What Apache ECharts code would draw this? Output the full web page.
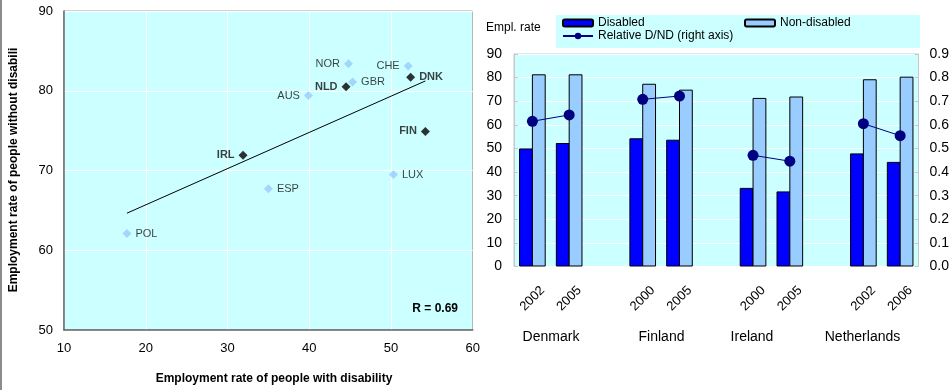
<!DOCTYPE html>
<html>
<head>
<meta charset="utf-8">
<script src="https://cdn.jsdelivr.net/npm/echarts@6/dist/echarts.min.js"></script>
<style>
  html, body { margin: 0; padding: 0; background: #fff; }
  #scatter { position: absolute; left: 0; top: 0; width: 483px; height: 390px; }
  #bars { position: absolute; left: 483px; top: 0; width: 469px; height: 390px; }
</style>
</head>
<body>
<div id="scatter"></div>
<div id="bars"></div>
<script>
// ---- Employment rates with / without disability, by country ----
const countryCodes = ['NOR', 'CHE', 'DNK', 'GBR', 'NLD', 'AUS', 'FIN', 'IRL', 'LUX', 'ESP', 'POL'];
const rateWithDisability = [44.8, 52.1, 52.4, 45.3, 44.5, 39.9, 54.2, 31.9, 50.3, 35.0, 17.7];
const rateWithoutDisability = [83.4, 83.1, 81.7, 81.1, 80.5, 79.4, 74.9, 71.9, 69.5, 67.7, 62.1];
const highlightedCodes = ['DNK', 'NLD', 'FIN', 'IRL'];
const scatterXTicks = [10, 20, 30, 40, 50, 60];
const scatterYTicks = [50, 60, 70, 80, 90];

// ---- Country trends: disabled vs non-disabled ----
const countryNames = ['Denmark', 'Finland', 'Ireland', 'Netherlands'];
const surveyYears = [['2002', '2005'], ['2000', '2005'], ['2000', '2005'], ['2002', '2006']];
const disabledRate = [50.0, 52.3, 54.3, 53.7, 33.3, 31.8, 47.9, 44.3];
const nonDisabledRate = [81.4, 81.4, 77.4, 74.9, 71.4, 72.0, 79.3, 80.4];
const relativeRatio = [0.615, 0.642, 0.708, 0.722, 0.471, 0.446, 0.605, 0.554];
const rateTicks = [0, 10, 20, 30, 40, 50, 60, 70, 80, 90];
const ratioTicks = [0, 0.1, 0.2, 0.3, 0.4, 0.5, 0.6, 0.7, 0.8, 0.9];

const FONT = '"Liberation Sans", Arial, Helvetica, sans-serif';
const PLOT_BG = '#ccffff';

// least-squares fit and correlation
function fit(xs, ys) {
  const n = xs.length;
  const mx = xs.reduce((a, b) => a + b, 0) / n;
  const my = ys.reduce((a, b) => a + b, 0) / n;
  let sxy = 0, sxx = 0, syy = 0;
  for (let i = 0; i < n; i++) {
    sxy += (xs[i] - mx) * (ys[i] - my);
    sxx += (xs[i] - mx) ** 2;
    syy += (ys[i] - my) ** 2;
  }
  const slope = sxy / sxx;
  return { slope, intercept: my - slope * mx, r: sxy / Math.sqrt(sxx * syy) };
}

// ================= left: scatter =================
const reg = fit(rateWithDisability, rateWithoutDisability);
const xLo = Math.min(...rateWithDisability);
const xHi = Math.max(...rateWithDisability);
const labelOnLeft = { NOR: 1, CHE: 1, NLD: 1, AUS: 1, FIN: 1, IRL: 1 };

const scatterPoints = countryCodes.map((code, i) => {
  const hi = highlightedCodes.includes(code);
  return {
    value: [rateWithDisability[i], rateWithoutDisability[i]],
    name: code,
    itemStyle: { color: hi ? '#000000' : '#99ccff' },
    label: {
      position: labelOnLeft[code] ? 'left' : 'right',
      fontWeight: hi ? 'bold' : 'normal'
    }
  };
});

const scatter = echarts.init(document.getElementById('scatter'), null, { renderer: 'canvas' });
scatter.setOption({
  animation: false,
  textStyle: { fontFamily: FONT },
  grid: {
    left: 64, top: 11, width: 416, height: 319,
    show: true, backgroundColor: PLOT_BG, borderColor: '#a0a0a0', borderWidth: 1
  },
  xAxis: {
    type: 'value', min: scatterXTicks[0], max: scatterXTicks[scatterXTicks.length - 1], interval: 10,
    axisLine: { show: true, onZero: false, lineStyle: { color: '#666', width: 1.5 } },
    axisTick: { show: false },
    splitLine: { show: true, lineStyle: { color: '#ffffff', width: 1 } },
    axisLabel: { fontSize: 13, color: '#000', margin: 12, fontFamily: FONT }
  },
  yAxis: {
    type: 'value', min: scatterYTicks[0], max: scatterYTicks[scatterYTicks.length - 1], interval: 10,
    axisLine: { show: true, onZero: false, lineStyle: { color: '#666', width: 1.5 } },
    axisTick: { show: false },
    splitLine: { show: true, lineStyle: { color: '#ffffff', width: 1 } },
    axisLabel: { fontSize: 13, color: '#000', margin: 11, fontFamily: FONT }
  },
  series: [
    {
      type: 'line',
      data: [[xLo, reg.intercept + reg.slope * xLo], [xHi, reg.intercept + reg.slope * xHi]],
      symbol: 'none',
      lineStyle: { color: '#000', width: 1 },
      z: 2, silent: true
    },
    {
      type: 'scatter',
      symbol: 'diamond',
      symbolSize: 9,
      data: scatterPoints,
      z: 3,
      label: {
        show: true, formatter: '{b}', fontSize: 11, color: '#111', distance: 4, fontFamily: FONT
      }
    }
  ],
  graphic: [
    { type: 'line', shape: { x1: 1, y1: 0, x2: 1, y2: 390 }, style: { stroke: '#666', lineWidth: 1.5 } },
    {
      type: 'text', x: 14, y: 170, rotation: Math.PI / 2,
      style: {
        text: 'Employment rate of people without disabili', font: 'bold 12px ' + FONT,
        fill: '#000', align: 'center', verticalAlign: 'middle'
      }
    },
    {
      type: 'text', x: 274, y: 379,
      style: {
        text: 'Employment rate of people with disability', font: 'bold 12px ' + FONT,
        fill: '#000', align: 'center', verticalAlign: 'middle'
      }
    },
    {
      type: 'text', x: 458, y: 309,
      style: {
        text: 'R = ' + reg.r.toFixed(2), font: 'bold 12px ' + FONT,
        fill: '#000', align: 'right', verticalAlign: 'middle'
      }
    }
  ]
});

// ================= right: bars + ratio line =================
// one empty slot between countries keeps the pairs apart
const categories = [];
const disabledSeries = [];
const nonDisabledSeries = [];
const ratioSeries = [];
let k = 0;
surveyYears.forEach((yrs, ci) => {
  yrs.forEach(y => {
    categories.push(y);
    disabledSeries.push(disabledRate[k]);
    nonDisabledSeries.push(nonDisabledRate[k]);
    ratioSeries.push(relativeRatio[k]);
    k++;
  });
  if (ci < surveyYears.length - 1) {
    categories.push('');
    disabledSeries.push(null);
    nonDisabledSeries.push(null);
    ratioSeries.push(null);
  }
});

const bars = echarts.init(document.getElementById('bars'), null, { renderer: 'canvas' });
const countryLabelX = [68, 178.5, 269, 379.5];

bars.setOption({
  animation: false,
  textStyle: { fontFamily: FONT },
  grid: {
    left: 31, top: 54, width: 405, height: 212.5,
    show: true, backgroundColor: PLOT_BG, borderColor: '#c8c8c8', borderWidth: 1
  },
  legend: [
    {
      data: ['Disabled'], left: 79, top: 17, padding: 0,
      itemWidth: 30, itemHeight: 7, textStyle: { fontSize: 12, color: '#000', fontFamily: FONT }
    },
    {
      data: ['Non-disabled'], left: 261, top: 17, padding: 0,
      itemWidth: 30, itemHeight: 7, textStyle: { fontSize: 12, color: '#000', fontFamily: FONT }
    },
    {
      data: ['Relative D/ND (right axis)'], left: 79, top: 30, padding: 0,
      itemWidth: 30, itemHeight: 8, textStyle: { fontSize: 12, color: '#000', fontFamily: FONT }
    }
  ],
  xAxis: {
    type: 'category', data: categories,
    axisLine: { show: false }, axisTick: { show: false },
    axisLabel: {
      interval: 0, rotate: 45, align: 'center', verticalAlign: 'middle',
      margin: 32, fontSize: 13, color: '#000', fontFamily: FONT
    }
  },
  yAxis: [
    {
      type: 'value', min: rateTicks[0], max: rateTicks[rateTicks.length - 1], interval: 10,
      axisLine: { show: true, lineStyle: { color: '#c8c8c8' } },
      axisTick: { show: true, inside: true, length: 4, lineStyle: { color: '#c8c8c8' } },
      splitLine: { show: true, lineStyle: { color: '#ffffff', width: 1 } },
      axisLabel: { fontSize: 14, color: '#000', margin: 12, fontFamily: FONT }
    },
    {
      type: 'value', min: ratioTicks[0], max: ratioTicks[ratioTicks.length - 1], interval: 0.1,
      position: 'right',
      axisLine: { show: true, lineStyle: { color: '#c8c8c8' } },
      axisTick: { show: true, inside: true, length: 4, lineStyle: { color: '#c8c8c8' } },
      splitLine: { show: false },
      axisLabel: {
        fontSize: 14, color: '#000', margin: 11, fontFamily: FONT,
        formatter: v => v.toFixed(1)
      }
    }
  ],
  series: [
    {
      name: 'Disabled', type: 'bar', data: disabledSeries,
      barWidth: 13.8, barGap: '-7%',
      itemStyle: { color: '#0000ff', borderColor: '#000', borderWidth: 1 }
    },
    {
      name: 'Non-disabled', type: 'bar', data: nonDisabledSeries,
      barWidth: 13.8, barGap: '-7%',
      itemStyle: { color: '#99ccff', borderColor: '#000', borderWidth: 1 }
    },
    {
      name: 'Relative D/ND (right axis)', type: 'line', yAxisIndex: 1,
      data: ratioSeries, connectNulls: false,
      symbol: 'circle', symbolSize: 11,
      itemStyle: { color: '#000080' },
      lineStyle: { color: '#000080', width: 1 },
      z: 5
    }
  ],
  graphic: [
    { type: 'rect', shape: { x: 73, y: 15, width: 364, height: 33 }, style: { fill: PLOT_BG }, z: -1 },
    {
      type: 'text', x: 3, y: 28,
      style: { text: 'Empl. rate', font: '12px ' + FONT, fill: '#000', align: 'left', verticalAlign: 'middle' }
    }
  ].concat(countryNames.map((name, i) => ({
    type: 'text', x: countryLabelX[i], y: 337,
    style: { text: name, font: '14px ' + FONT, fill: '#000', align: 'center', verticalAlign: 'middle' }
  })))
});
</script>
</body>
</html>
